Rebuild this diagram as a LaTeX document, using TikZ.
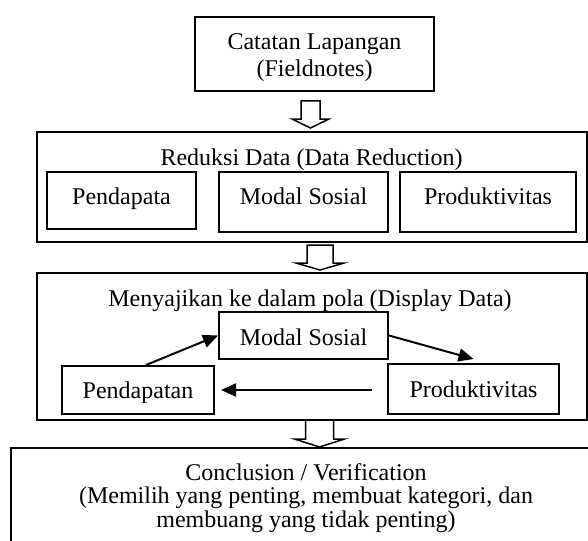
\documentclass[tikz,border=0pt]{standalone}
\usepackage{fontspec}
\setmainfont{Liberation Serif}
\usetikzlibrary{arrows.meta, calc}

\begin{document}
\begin{tikzpicture}[x=0.5pt, y=-0.5pt,
  box/.style={draw, line width=1pt, inner sep=0pt},
  txt/.style={inner sep=0pt, font=\fontsize{12}{13.5}\selectfont},
  link/.style={line width=1pt, -{Triangle[length=7.5pt, width=6.5pt]}},
  hollow/.style={draw, line width=0.75pt, fill=white, line join=miter}]
  \useasboundingbox (0,0) rectangle (588,540);
  \clip (0,0) rectangle (588,540);

  % Fieldnotes
  \node[box, minimum width=119.5pt, minimum height=37pt] (catatan) at (314.5, 54) {};
  \node[txt, align=center] (catatanTxt) at (314.5, 57.5) {Catatan Lapangan\\(Fieldnotes)};

  % Data reduction
  \node[box, minimum width=275pt, minimum height=55pt] (reduksi) at (312, 187) {};
  \node[txt, anchor=base] (reduksiTxt) at (311.5, 165) {Reduksi Data (Data Reduction)};
  \node[box, minimum width=74.5pt, minimum height=28.5pt] (pendA) at (121.5, 200.5) {};
  \node[txt, anchor=base] (pendATxt) at (121.5, 204) {Pendapata};
  \node[box, minimum width=84.5pt, minimum height=30pt] (modalA) at (303.5, 202) {};
  \node[txt, anchor=base] (modalATxt) at (303.5, 204) {Modal Sosial};
  \node[box, minimum width=88pt, minimum height=30pt] (prodA) at (488, 202) {};
  \node[txt, anchor=base] (prodATxt) at (488, 204) {Produktivitas};

  % Display data
  \node[box, minimum width=275pt, minimum height=73.5pt] (display) at (312, 346.5) {};
  \node[txt, anchor=base] (displayTxt) at (310, 306) {Menyajikan ke dalam pola (Display Data)};
  \node[box, minimum width=84.5pt, minimum height=23.5pt] (modalB) at (303.5, 335.5) {};
  \node[txt, anchor=base] (modalBTxt) at (303.5, 345) {Modal Sosial};
  \node[box, minimum width=76pt, minimum height=24pt] (pendB) at (138, 390) {};
  \node[txt, anchor=base] (pendBTxt) at (138, 398) {Pendapatan};
  \node[box, minimum width=85.5pt, minimum height=25pt] (prodB) at (473.5, 389) {};
  \node[txt, anchor=base] (prodBTxt) at (473.5, 397) {Produktivitas};

  \draw[link] ([xshift=4pt]pendB.north) -- (modalB.west);
  \draw[link] (modalB.east) -- ([yshift=2pt]prodB.north);
  \draw[link, shorten <=7.5pt, shorten >=3pt] (prodB.west |- pendB.east) -- (pendB.east);

  % Conclusion
  \node[box, minimum width=295.5pt, minimum height=56pt] (conclusion) at (306.5, 504) {};
  \node[txt, align=center, font=\fontsize{12}{11.75}\selectfont] (conclusionTxt) at (306, 498) {Conclusion / Verification\\(Memilih yang penting, membuat kategori, dan\\membuang yang tidak penting)};

  % Hollow arrows between the stages
  \foreach \cx/\ty/\by/\tip/\sw/\hw in {310.5/101/119/128/9.5/18.5, 320/245/263/270/13/24, 319.5/420/439/447/14/25}
    \draw[hollow] (\cx-\sw,\ty) -- (\cx+\sw,\ty) -- (\cx+\sw,\by) -- (\cx+\hw,\by) -- (\cx,\tip) -- (\cx-\hw,\by) -- (\cx-\sw,\by) -- cycle;
\end{tikzpicture}
\end{document}
